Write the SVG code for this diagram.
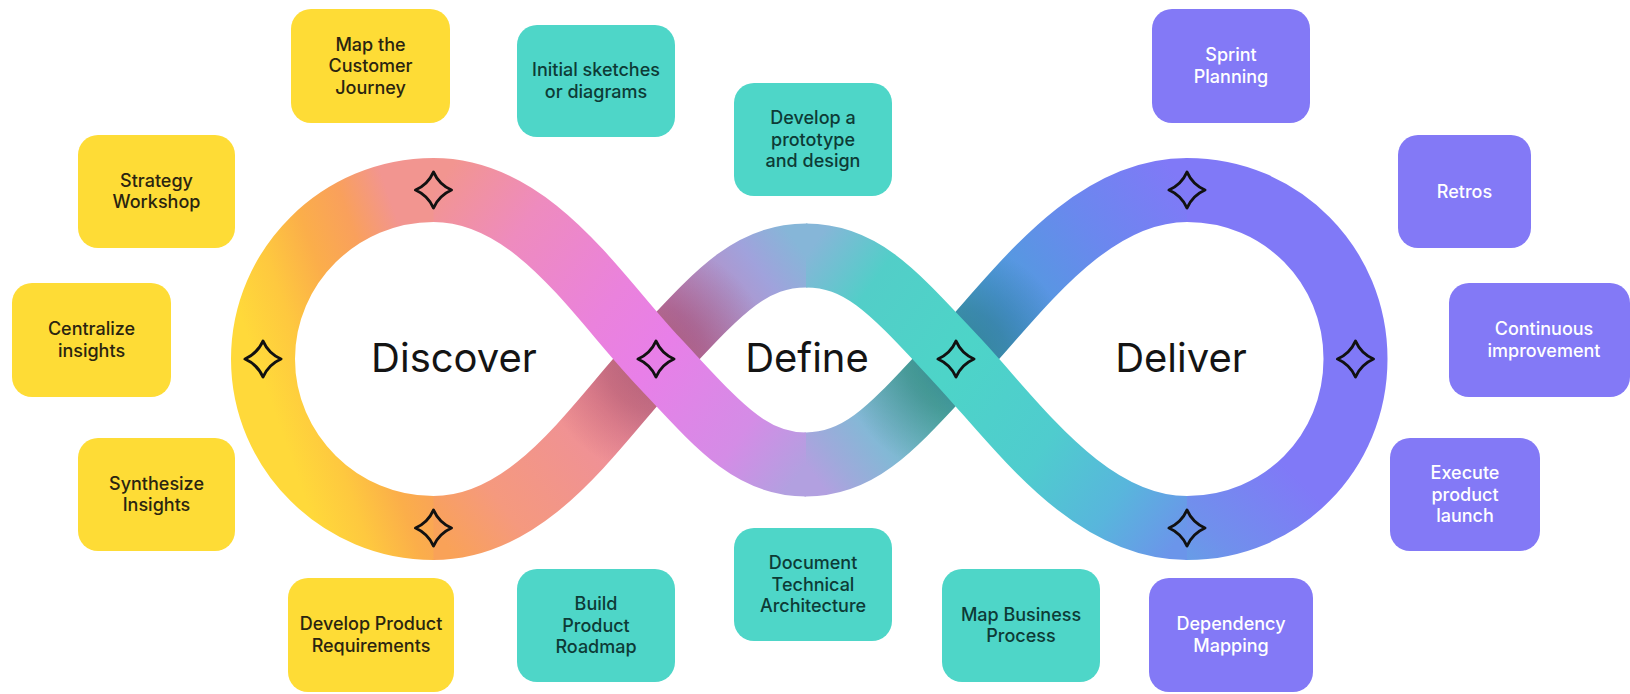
<svg xmlns="http://www.w3.org/2000/svg" xmlns:xlink="http://www.w3.org/1999/xlink" width="1630" height="694" viewBox="0 0 1630 694">
<style>
  .bx{stroke:none}
  .y{fill:#FEDC36}
  .t{fill:#4ED6C8}
  .p{fill:#8379F6}
  .lbl{font-family:Inter,"Liberation Sans",sans-serif;font-size:18px;font-weight:500;text-anchor:middle}
  .ly{fill:#2A2410}
  .lt{fill:#0D3B36}
  .lp{fill:#FFFFFF}
  .big{font-family:Inter,"Liberation Sans",sans-serif;font-size:40px;font-weight:400;fill:#141414;text-anchor:middle}
  .band{fill:none;stroke-width:64;stroke-linecap:butt}
  .spark{fill:none;stroke:#111;stroke-width:3;stroke-linejoin:round}
</style>
<defs>
  <linearGradient id="gA" gradientUnits="userSpaceOnUse" x1="263" y1="380" x2="433" y2="320">
    <stop offset="0" stop-color="#FFD93A"/>
    <stop offset="0.25" stop-color="#FEC83F"/>
    <stop offset="0.5" stop-color="#FBAE4A"/>
    <stop offset="0.75" stop-color="#F9A05C"/>
    <stop offset="1" stop-color="#F29590"/>
  </linearGradient>
  <linearGradient id="gB" gradientUnits="userSpaceOnUse" x1="433.5" y1="190" x2="806" y2="464.5">
    <stop offset="0" stop-color="#F29590"/>
    <stop offset="0.2" stop-color="#EE8BBE"/>
    <stop offset="0.45" stop-color="#EA82DC"/>
    <stop offset="0.6" stop-color="#E87FE8"/>
    <stop offset="0.85" stop-color="#D48CE6"/>
    <stop offset="1" stop-color="#B2A0E0"/>
  </linearGradient>
  <linearGradient id="gD" gradientUnits="userSpaceOnUse" x1="806" y1="464.5" x2="1187" y2="190">
    <stop offset="0" stop-color="#B2A0E0"/>
    <stop offset="0.06" stop-color="#9EAADB"/>
    <stop offset="0.15" stop-color="#84B8D6"/>
    <stop offset="0.3" stop-color="#5EC0B8"/>
    <stop offset="0.39" stop-color="#4FB8C8"/>
    <stop offset="0.54" stop-color="#4F9EDC"/>
    <stop offset="0.78" stop-color="#6A88EE"/>
    <stop offset="1" stop-color="#8079F7"/>
  </linearGradient>
  <linearGradient id="gE" gradientUnits="userSpaceOnUse" x1="1060" y1="520" x2="1200" y2="380">
    <stop offset="0" stop-color="#58B2DE"/>
    <stop offset="0.5" stop-color="#7090EC"/>
    <stop offset="1" stop-color="#8079F7"/>
  </linearGradient>
  <linearGradient id="gF" gradientUnits="userSpaceOnUse" x1="1187" y1="528" x2="806" y2="255.5">
    <stop offset="0" stop-color="#6B95EA"/>
    <stop offset="0.16" stop-color="#58B6DC"/>
    <stop offset="0.35" stop-color="#4FCCCE"/>
    <stop offset="0.61" stop-color="#4DD4C8"/>
    <stop offset="0.85" stop-color="#52CEC8"/>
    <stop offset="1" stop-color="#86B6D8"/>
  </linearGradient>
  <linearGradient id="gG" gradientUnits="userSpaceOnUse" x1="806" y1="255.5" x2="433.5" y2="528">
    <stop offset="0" stop-color="#86B6D8"/>
    <stop offset="0.1" stop-color="#A0A2DC"/>
    <stop offset="0.3" stop-color="#C484B8"/>
    <stop offset="0.4" stop-color="#D88AA8"/>
    <stop offset="0.55" stop-color="#EE8F9C"/>
    <stop offset="0.85" stop-color="#F5997E"/>
    <stop offset="1" stop-color="#F9A258"/>
  </linearGradient>
  <radialGradient id="shL" gradientUnits="userSpaceOnUse" cx="656" cy="359" r="115">
    <stop offset="0" stop-color="#6A1028" stop-opacity="0.36"/>
    <stop offset="0.45" stop-color="#6A1028" stop-opacity="0.26"/>
    <stop offset="1" stop-color="#6A1028" stop-opacity="0"/>
  </radialGradient>
  <radialGradient id="shR" gradientUnits="userSpaceOnUse" cx="956" cy="359" r="115">
    <stop offset="0" stop-color="#00303A" stop-opacity="0.36"/>
    <stop offset="0.45" stop-color="#00303A" stop-opacity="0.26"/>
    <stop offset="1" stop-color="#00303A" stop-opacity="0"/>
  </radialGradient>
  <path id="spark" class="spark" d="M0,-18 Q5.5,-5.5 18,0 Q5.5,5.5 0,18 Q-5.5,5.5 -18,0 Q-5.5,-5.5 0,-18 Z"/>
</defs>
<rect width="1630" height="694" fill="#FFFFFF"/>

<g id="loop">
  <path class="band" stroke="url(#gA)" d="M435,528 L433.5,528 C340,528 263,452 263,359 C263,266 340,190 433.5,190 L435,190"/>
  <path class="band" stroke="url(#gE)" d="M1185.5,190 L1187,190 C1282,190 1355.5,266 1355.5,359 C1355.5,452 1282,528 1187,528 L1185.5,528"/>
  <path class="band" stroke="url(#gG)" d="M807.5,255.5 L806,255.5 C749,255.5 717,294 656,359 C595,424 532,528 433.5,528"/>
  <path class="band" stroke="url(#shL)" d="M807.5,255.5 L806,255.5 C749,255.5 717,294 656,359 C595,424 532,528 433.5,528"/>
  <path class="band" stroke="url(#gD)" d="M804.5,464.5 L806,464.5 C863,464.5 895,424 956,359 C1017,294 1088,190 1187,190"/>
  <path class="band" stroke="url(#shR)" d="M804.5,464.5 L806,464.5 C863,464.5 895,424 956,359 C1017,294 1088,190 1187,190"/>
  <path class="band" stroke="url(#gB)" d="M433.5,190 C532,190 595,294 656,359 C717,424 749,464.5 806,464.5"/>
  <path class="band" stroke="url(#gF)" d="M1187,528 C1088,528 1017,424 956,359 C895,294 863,255.5 806,255.5"/>
</g>

<g id="sparkles">
  <use xlink:href="#spark" href="#spark" x="433.5" y="190"/>
  <use xlink:href="#spark" href="#spark" x="263" y="359"/>
  <use xlink:href="#spark" href="#spark" x="433.5" y="528"/>
  <use xlink:href="#spark" href="#spark" x="656" y="359"/>
  <use xlink:href="#spark" href="#spark" x="956" y="359"/>
  <use xlink:href="#spark" href="#spark" x="1187" y="190"/>
  <use xlink:href="#spark" href="#spark" x="1355.5" y="359"/>
  <use xlink:href="#spark" href="#spark" x="1187" y="528"/>
</g>

<g id="phase-labels">
  <text class="big" x="454" y="372">Discover</text>
  <text class="big" x="807" y="372">Define</text>
  <text class="big" x="1181" y="372">Deliver</text>
</g>

<g id="n-map-customer-journey">
  <rect class="bx y" x="291" y="9" width="159" height="114" rx="20"/>
  <text class="lbl ly" x="370.5"><tspan x="370.5" y="50.5">Map the</tspan><tspan x="370.5" y="72">Customer</tspan><tspan x="370.5" y="93.5">Journey</tspan></text>
</g>
<g id="n-strategy-workshop">
  <rect class="bx y" x="78" y="135" width="157" height="113" rx="20"/>
  <text class="lbl ly"><tspan x="156.5" y="186.75">Strategy</tspan><tspan x="156.5" y="208.25">Workshop</tspan></text>
</g>
<g id="n-centralize-insights">
  <rect class="bx y" x="12" y="283" width="159" height="114" rx="20"/>
  <text class="lbl ly"><tspan x="91.5" y="335.25">Centralize</tspan><tspan x="91.5" y="356.75">insights</tspan></text>
</g>
<g id="n-synthesize-insights">
  <rect class="bx y" x="78" y="438" width="157" height="113" rx="20"/>
  <text class="lbl ly"><tspan x="156.5" y="489.75">Synthesize</tspan><tspan x="156.5" y="511.25">Insights</tspan></text>
</g>
<g id="n-develop-product-requirements">
  <rect class="bx y" x="288" y="578" width="166" height="114" rx="20"/>
  <text class="lbl ly"><tspan x="371" y="630.25">Develop Product</tspan><tspan x="371" y="651.75">Requirements</tspan></text>
</g>

<g id="n-initial-sketches">
  <rect class="bx t" x="517" y="25" width="158" height="112" rx="20"/>
  <text class="lbl lt"><tspan x="596" y="76.25">Initial sketches</tspan><tspan x="596" y="97.75">or diagrams</tspan></text>
</g>
<g id="n-develop-prototype">
  <rect class="bx t" x="734" y="83" width="158" height="113" rx="20"/>
  <text class="lbl lt"><tspan x="813" y="124">Develop a</tspan><tspan x="813" y="145.5">prototype</tspan><tspan x="813" y="167">and design</tspan></text>
</g>
<g id="n-build-product-roadmap">
  <rect class="bx t" x="517" y="569" width="158" height="113" rx="20"/>
  <text class="lbl lt"><tspan x="596" y="610">Build</tspan><tspan x="596" y="631.5">Product</tspan><tspan x="596" y="653">Roadmap</tspan></text>
</g>
<g id="n-document-architecture">
  <rect class="bx t" x="734" y="528" width="158" height="113" rx="20"/>
  <text class="lbl lt"><tspan x="813" y="569">Document</tspan><tspan x="813" y="590.5">Technical</tspan><tspan x="813" y="612">Architecture</tspan></text>
</g>
<g id="n-map-business-process">
  <rect class="bx t" x="942" y="569" width="158" height="113" rx="20"/>
  <text class="lbl lt"><tspan x="1021" y="620.75">Map Business</tspan><tspan x="1021" y="642.25">Process</tspan></text>
</g>

<g id="n-sprint-planning">
  <rect class="bx p" x="1152" y="9" width="158" height="114" rx="20"/>
  <text class="lbl lp"><tspan x="1231" y="61.25">Sprint</tspan><tspan x="1231" y="82.75">Planning</tspan></text>
</g>
<g id="n-retros">
  <rect class="bx p" x="1398" y="135" width="133" height="113" rx="20"/>
  <text class="lbl lp" x="1464.5" y="197.5">Retros</text>
</g>
<g id="n-continuous-improvement">
  <rect class="bx p" x="1449" y="283" width="181" height="114" rx="20"/>
  <text class="lbl lp"><tspan x="1544" y="335.25">Continuous</tspan><tspan x="1544" y="356.75">improvement</tspan></text>
</g>
<g id="n-execute-launch">
  <rect class="bx p" x="1390" y="438" width="150" height="113" rx="20"/>
  <text class="lbl lp"><tspan x="1465" y="479">Execute</tspan><tspan x="1465" y="500.5">product</tspan><tspan x="1465" y="522">launch</tspan></text>
</g>
<g id="n-dependency-mapping">
  <rect class="bx p" x="1149" y="578" width="164" height="114" rx="20"/>
  <text class="lbl lp"><tspan x="1231" y="630.25">Dependency</tspan><tspan x="1231" y="651.75">Mapping</tspan></text>
</g>
</svg>
